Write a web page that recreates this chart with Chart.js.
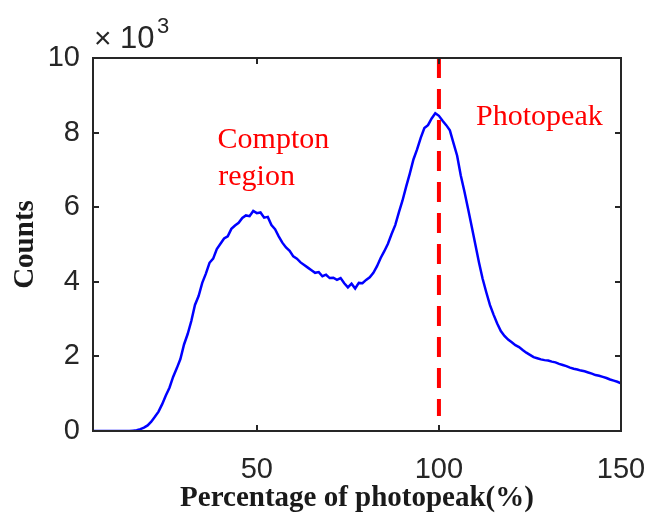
<!DOCTYPE html>
<html>
<head>
<meta charset="utf-8">
<script src="https://cdn.jsdelivr.net/npm/chart.js@4/dist/chart.umd.min.js"></script>
<style>
html,body{margin:0;padding:0;background:#fff;}
#wrap{width:647px;height:516px;position:relative;}
</style>
</head>
<body>
<div id="wrap"><canvas id="c" width="647" height="516"></canvas></div>
<script>
// Percentage of photopeak (%)
const percent = [5,6,7,8,9,10,11,12,13,14,15,16,17,18,19,20,21,22,23,24,25,26,27,28,29,30,
31,32,33,34,35,36,37,38,39,40,41,42,43,44,45,46,47,48,49,50,51,52,53,54,55,56,57,58,59,60,
61,62,63,64,65,66,67,68,69,70,71,72,73,74,75,76,77,78,79,80,81,82,83,84,85,86,87,88,89,90,
91,92,93,94,95,96,97,98,99,100,101,102,103,104,105,106,107,108,109,110,111,112,113,114,115,
116,117,118,119,120,121,122,123,124,125,126,127,128,129,130,131,132,133,134,135,136,137,138,
139,140,141,142,143,144,145,146,147,148,149,150];
// Counts (x10^3)
const counts = [0,0,0,0,0,0,0,0,0,0,0,0.01,0.02,0.05,0.09,0.15,0.25,0.38,0.52,0.72,0.95,1.16,
1.45,1.68,1.93,2.32,2.6,2.95,3.38,3.62,3.97,4.22,4.51,4.62,4.88,5.02,5.16,5.22,5.42,5.51,5.58,
5.71,5.78,5.76,5.9,5.84,5.86,5.72,5.74,5.52,5.41,5.22,5.05,4.92,4.83,4.68,4.62,4.52,4.45,4.38,
4.31,4.24,4.26,4.15,4.19,4.1,4.11,4.05,4.1,3.96,3.85,3.95,3.82,3.97,3.96,4.05,4.12,4.24,4.42,
4.64,4.82,5.02,5.28,5.52,5.86,6.18,6.55,6.9,7.28,7.55,7.86,8.12,8.2,8.38,8.52,8.45,8.32,8.2,
8.06,7.72,7.38,6.85,6.42,5.96,5.48,5.0,4.52,4.08,3.72,3.38,3.12,2.88,2.68,2.55,2.45,2.38,2.3,
2.25,2.17,2.1,2.04,1.98,1.95,1.92,1.9,1.89,1.86,1.84,1.8,1.77,1.74,1.7,1.67,1.65,1.62,1.6,
1.57,1.54,1.5,1.48,1.45,1.42,1.38,1.35,1.32,1.28];
// Photopeak marker line
const photopeakX = [100,100];
const photopeakY = [10,0.4];
// Ticks
const xTicks = [50,100,150];
const yTicks = [0,2,4,6,8,10];
// Annotation texts
const annotations = [
  {text:'Compton', x:39.2, y:7.6},
  {text:'region', x:39.4, y:6.6},
  {text:'Photopeak', x:110.2, y:8.2}
];

const AXIS = '#262626';

const boxPlugin = {
  id:'box',
  afterDatasetsDraw(chart){
    const {ctx, chartArea:a, scales:{x, y}} = chart;
    ctx.save();
    ctx.strokeStyle = AXIS;
    ctx.lineWidth = 2;
    ctx.strokeRect(a.left, a.top, a.right - a.left, a.bottom - a.top);
    const tl = 6;
    ctx.beginPath();
    xTicks.forEach(v => {
      const px = Math.round(x.getPixelForValue(v));
      ctx.moveTo(px, a.bottom); ctx.lineTo(px, a.bottom - tl);
      ctx.moveTo(px, a.top); ctx.lineTo(px, a.top + tl);
    });
    yTicks.forEach(v => {
      const py = Math.round(y.getPixelForValue(v));
      ctx.moveTo(a.left, py); ctx.lineTo(a.left + tl, py);
      ctx.moveTo(a.right, py); ctx.lineTo(a.right - tl, py);
    });
    ctx.stroke();
    // annotations
    ctx.fillStyle = '#ff0000';
    ctx.font = '30px "Liberation Serif", "Times New Roman", serif';
    ctx.textAlign = 'left';
    ctx.textBaseline = 'alphabetic';
    annotations.forEach(t => {
      ctx.fillText(t.text, x.getPixelForValue(t.x), y.getPixelForValue(t.y));
    });
    // exponent label
    ctx.fillStyle = AXIS;
    ctx.font = '30px "Liberation Sans", Arial, sans-serif';
    ctx.fillText('\u00d7', a.left + 1, a.top - 10);
    ctx.font = '31px "Liberation Sans", Arial, sans-serif';
    ctx.fillText('10', a.left + 27, a.top - 10);
    ctx.font = '22px "Liberation Sans", Arial, sans-serif';
    ctx.fillText('3', a.left + 64, a.top - 25);
    ctx.restore();
  }
};

new Chart(document.getElementById('c'), {
  type:'scatter',
  data:{
    datasets:[
      {
        data: photopeakX.map((v,i)=>({x:v, y:photopeakY[i]})),
        showLine:true, borderColor:'#ff0000', borderWidth:4,
        borderDash:[20,11], pointRadius:0, borderCapStyle:'butt'
      },
      {
        data: percent.map((v,i)=>({x:v, y:counts[i]})),
        showLine:true, borderColor:'#0000ff', borderWidth:2.5,
        pointRadius:0, tension:0
      }
    ]
  },
  options:{
    responsive:false,
    animation:false,
    events:[],
    layout:{padding:{top:58, right:26, left:0, bottom:0}},
    plugins:{legend:{display:false}, tooltip:{enabled:false}},
    scales:{
      x:{
        type:'linear', min:5, max:150,
        afterBuildTicks: s => { s.ticks = xTicks.map(v=>({value:v})); },
        afterFit: s => { s.height = 85; s.paddingLeft = 0; s.paddingRight = 0; },
        grid:{display:false, drawTicks:false},
        border:{display:false},
        ticks:{padding:22, color:AXIS, maxRotation:0,
          font:{family:'"Liberation Sans", Arial, sans-serif', size:29}},
        title:{display:true, text:'Percentage of photopeak(%)', color:'#1a1a1a',
          padding:{top:0, bottom:0},
          font:{family:'"Liberation Serif", "Times New Roman", serif', size:29, weight:'bold'}}
      },
      y:{
        type:'linear', min:0, max:10,
        afterBuildTicks: s => { s.ticks = yTicks.map(v=>({value:v})); },
        afterFit: s => { s.width = 93; s.paddingTop = 0; s.paddingBottom = 0; },
        grid:{display:false, drawTicks:false},
        border:{display:false},
        ticks:{padding:13, color:AXIS,
          font:{family:'"Liberation Sans", Arial, sans-serif', size:29}},
        title:{display:true, text:'Counts', color:'#1a1a1a',
          padding:{top:8, bottom:0},
          font:{family:'"Liberation Serif", "Times New Roman", serif', size:29, weight:'bold'}}
      }
    }
  },
  plugins:[boxPlugin]
});
</script>
</body>
</html>
